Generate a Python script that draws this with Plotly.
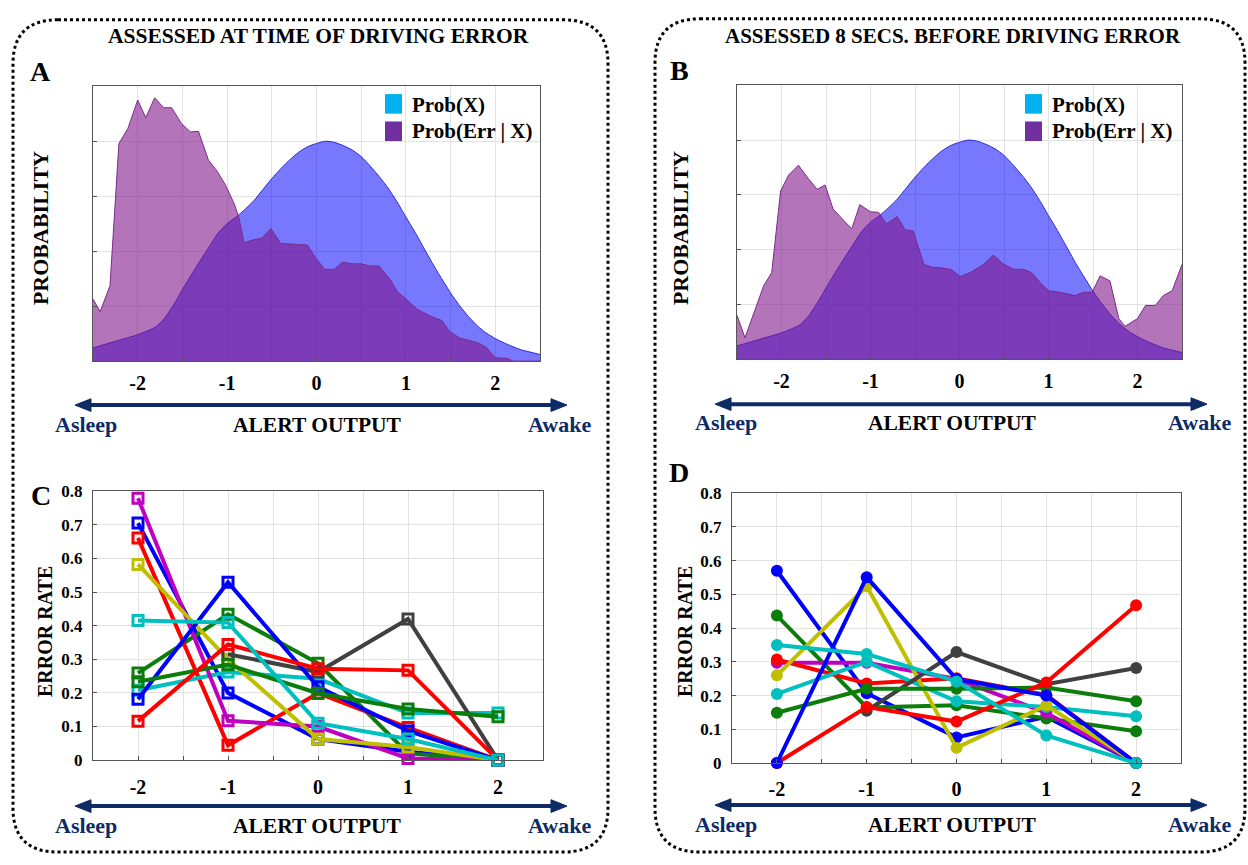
import plotly.graph_objects as go

W, H = 1248, 865

# ---------------- data ----------------
alert_levels = [-2, -1, 0, 1, 2]

# Prob(X) (same smooth curve in both top panels), grid units 0..5
prob_x_x = [-2.5, -2.25, -2.0, -1.8, -1.7, -1.6, -1.5, -1.4, -1.3, -1.2, -1.1, -1.0, -0.9, -0.8, -0.7,
            -0.6, -0.5, -0.4, -0.3, -0.2, -0.1, 0.0, 0.1, 0.2, 0.3, 0.4, 0.5, 0.6, 0.7, 0.8, 0.9, 1.0,
            1.1, 1.2, 1.3, 1.4, 1.5, 1.6, 1.7, 1.8, 1.9, 2.0, 2.1, 2.2, 2.3, 2.4, 2.5]
prob_x_y = [0.24, 0.36, 0.48, 0.62, 0.78, 1.02, 1.30, 1.57, 1.83, 2.08, 2.33, 2.50, 2.62, 2.76, 2.92,
            3.12, 3.32, 3.50, 3.66, 3.80, 3.90, 3.96, 4.00, 3.98, 3.92, 3.84, 3.72, 3.55, 3.36, 3.15, 2.90, 2.62,
            2.35, 2.06, 1.77, 1.50, 1.24, 1.01, 0.81, 0.64, 0.51, 0.41, 0.33, 0.26, 0.20, 0.16, 0.12]

# Prob(Err | X) – at time of error
err_a_x = [-2.5, -2.42, -2.31, -2.21, -2.11, -2.0, -1.91, -1.81, -1.71, -1.62, -1.51, -1.41, -1.32, -1.21,
           -1.11, -1.02, -0.92, -0.87, -0.81, -0.72, -0.61, -0.51, -0.40, -0.29, -0.19, -0.10, -0.01, 0.09,
           0.20, 0.29, 0.40, 0.50, 0.59, 0.70, 0.82, 0.91, 1.00, 1.12, 1.27, 1.40, 1.49, 1.60, 1.72, 1.81,
           1.90, 2.0, 2.13, 2.20, 2.5]
err_a_y = [1.13, 0.90, 1.37, 3.96, 4.23, 4.75, 4.43, 4.79, 4.61, 4.61, 4.32, 4.17, 4.18, 3.66,
           3.45, 3.21, 2.86, 2.62, 2.15, 2.20, 2.24, 2.41, 2.14, 2.13, 2.11, 2.11, 1.88, 1.67,
           1.67, 1.80, 1.77, 1.77, 1.73, 1.73, 1.49, 1.25, 1.13, 0.95, 0.82, 0.74, 0.54, 0.42, 0.37, 0.33,
           0.25, 0.06, 0.05, 0.0, 0.0]

# Prob(Err | X) – 8 s before error
err_b_x = [-2.5, -2.41, -2.30, -2.20, -2.11, -2.01, -1.92, -1.81, -1.70, -1.60, -1.51, -1.42, -1.30, -1.21,
           -1.12, -1.00, -0.91, -0.82, -0.70, -0.61, -0.52, -0.40, -0.31, -0.22, -0.10, 0.01, 0.12, 0.27,
           0.38, 0.49, 0.61, 0.72, 0.81, 0.92, 1.00, 1.13, 1.30, 1.39, 1.49, 1.58, 1.69, 1.79, 1.86, 2.00,
           2.09, 2.20, 2.29, 2.39, 2.5]
err_b_y = [0.80, 0.39, 0.89, 1.34, 1.58, 3.07, 3.36, 3.54, 3.30, 3.10, 3.18, 2.74, 2.53, 2.38,
           2.82, 2.69, 2.68, 2.47, 2.60, 2.36, 2.34, 1.73, 1.68, 1.67, 1.64, 1.51, 1.58, 1.73,
           1.90, 1.74, 1.64, 1.64, 1.58, 1.37, 1.25, 1.22, 1.16, 1.22, 1.22, 1.52, 1.43, 0.74, 0.60, 0.74,
           0.98, 0.98, 1.16, 1.25, 1.73]

# Error rate per subject (panel C: at time of error)
c_blue_1 = [0.705, 0.20, 0.063, 0.025, 0.0]
c_green_1 = [0.259, 0.434, 0.288, 0.02, 0.0]
c_red_1 = [0.661, 0.044, 0.199, 0.097, 0.0]
c_cyan_1 = [0.208, 0.262, 0.242, 0.14, 0.14]
c_magenta = [0.779, 0.117, 0.10, 0.005, 0.0]
c_olive = [0.582, 0.30, 0.063, 0.039, 0.0]
c_gray = [None, 0.315, 0.262, 0.42, 0.0]
c_blue_2 = [0.181, 0.529, 0.218, 0.087, 0.0]
c_green_2 = [0.233, 0.284, 0.199, 0.152, 0.129]
c_red_2 = [0.116, 0.344, 0.272, 0.267, 0.0]
c_cyan_2 = [0.415, 0.409, 0.11, 0.063, 0.0]

# Error rate per subject (panel D: 8 s before error)
d_blue_1 = [0.57, 0.207, 0.076, 0.137, 0.0]
d_green_1 = [0.437, 0.165, 0.171, 0.132, 0.094]
d_red_1 = [0.307, 0.236, 0.251, 0.202, 0.0]
d_cyan_1 = [0.205, 0.30, 0.183, 0.166, 0.139]
d_magenta = [0.297, 0.297, 0.249, 0.149, 0.0]
d_olive = [0.26, 0.524, 0.045, 0.171, 0.0]
d_gray = [None, 0.155, 0.329, 0.234, 0.282]
d_blue_2 = [0.0, 0.551, 0.249, 0.20, 0.0]
d_green_2 = [0.149, 0.22, 0.22, 0.224, 0.183]
d_red_2 = [0.0, 0.166, 0.123, 0.239, 0.468]
d_cyan_2 = [0.35, 0.323, 0.242, 0.082, 0.0]

COL = {'b': '#0000ff', 'g': '#0a7d0a', 'r': '#ff0000', 'c': '#00bfbf',
       'm': '#bf00bf', 'y': '#bfbf00', 'k': '#404040'}

c_series = [('b', c_blue_1), ('g', c_green_1), ('r', c_red_1), ('c', c_cyan_1), ('m', c_magenta),
            ('y', c_olive), ('k', c_gray), ('b', c_blue_2), ('g', c_green_2), ('r', c_red_2), ('c', c_cyan_2)]
d_series = [('b', d_blue_1), ('g', d_green_1), ('m', d_magenta), ('r', d_red_1), ('c', d_cyan_1),
            ('y', d_olive), ('k', d_gray), ('g', d_green_2), ('r', d_red_2), ('b', d_blue_2), ('c', d_cyan_2)]

SERIF = 'Liberation Serif'
NAVY = '#0d2b66'
BLUE_FILL = 'rgba(0,0,255,0.53)'
ERR_FILL = 'rgba(128,19,137,0.59)'


def px(x):
    return x / W


def py(y):
    return 1 - y / H


fig = go.Figure()

# ---- top panels ----
for xa, ya, ex, ey in [('x', 'y', err_a_x, err_a_y), ('x2', 'y2', err_b_x, err_b_y)]:
    fig.add_trace(go.Scatter(x=prob_x_x, y=prob_x_y, xaxis=xa, yaxis=ya, mode='lines',
                             line=dict(color='#2a2ad8', width=1, shape='spline', smoothing=0.6),
                             fill='tozeroy', fillcolor=BLUE_FILL, hoverinfo='skip'))
    fig.add_trace(go.Scatter(x=ex, y=ey, xaxis=xa, yaxis=ya, mode='lines',
                             line=dict(color='#7a2a8a', width=1),
                             fill='tozeroy', fillcolor=ERR_FILL, hoverinfo='skip'))

# ---- bottom panels ----
for key, ys in c_series:
    fig.add_trace(go.Scatter(x=alert_levels, y=ys, xaxis='x3', yaxis='y3', mode='lines+markers',
                             line=dict(color=COL[key], width=4), cliponaxis=False,
                             marker=dict(symbol='square-open', size=10, color=COL[key],
                                         line=dict(width=3, color=COL[key]))))
for key, ys in d_series:
    fig.add_trace(go.Scatter(x=alert_levels, y=ys, xaxis='x4', yaxis='y4', mode='lines+markers',
                             line=dict(color=COL[key], width=4), cliponaxis=False,
                             marker=dict(symbol='circle', size=12, color=COL[key])))

xt_vals = [-2, -1.5, -1, -0.5, 0, 0.5, 1, 1.5, 2]
xt_text = ['-2', '', '-1', '', '0', '', '1', '', '2']


def xaxis(dom, anchor, standoff):
    return dict(domain=dom, anchor=anchor, range=[-2.5, 2.5], tickvals=xt_vals, ticktext=xt_text,
                showgrid=True, gridcolor='#e2e2e2', gridwidth=1, zeroline=False,
                showline=True, linecolor='#555555', linewidth=1, mirror=True,
                ticks='inside', ticklen=4, tickcolor='#555555',
                tickfont=dict(family=SERIF, size=20, color='black', weight='bold'),
                ticklabelstandoff=standoff)


def yaxis(dom, anchor, rng, dtick, labels):
    return dict(domain=dom, anchor=anchor, range=rng, dtick=dtick, tick0=0,
                showgrid=True, gridcolor='#e2e2e2', gridwidth=1, zeroline=False,
                showline=True, linecolor='#555555', linewidth=1, mirror=True,
                ticks='inside', ticklen=4, tickcolor='#555555', showticklabels=labels,
                tickfont=dict(family=SERIF, size=17, color='black', weight='bold'),
                ticklabelstandoff=6)


fig.update_layout(
    width=W, height=H, margin=dict(l=0, r=0, t=0, b=0),
    paper_bgcolor='white', plot_bgcolor='white', showlegend=False,
    xaxis=xaxis([px(93), px(540)], 'y', 4),
    yaxis=yaxis([py(360), py(79)], 'x', [0, 5], 1, False),
    xaxis2=xaxis([px(737), px(1182)], 'y2', 4),
    yaxis2=yaxis([py(358), py(78)], 'x2', [0, 5], 1, False),
    xaxis3=xaxis([px(93), px(543)], 'y3', 9),
    yaxis3=yaxis([py(768), py(493)], 'x3', [0, 0.8], 0.1, True),
    xaxis4=xaxis([px(732), px(1181)], 'y4', 8),
    yaxis4=yaxis([py(771), py(495)], 'x4', [0, 0.8], 0.1, True),
)

shapes = []
annos = []


def rounded_rect(x0, y0, x1, y1, r):
    pts = [('M', x0 + r, y0), ('L', x1 - r, y0), ('Q', x1, y0, x1, y0 + r), ('L', x1, y1 - r),
           ('Q', x1, y1, x1 - r, y1), ('L', x0 + r, y1), ('Q', x0, y1, x0, y1 - r), ('L', x0, y0 + r),
           ('Q', x0, y0, x0 + r, y0)]
    s = ''
    for p in pts:
        cmd = p[0]
        coords = p[1:]
        parts = []
        for i in range(0, len(coords), 2):
            parts.append(f'{px(coords[i]):.5f},{py(coords[i + 1]):.5f}')
        s += cmd + ' '.join(parts) + ' '
    return s + 'Z'


for box in [(13, 11, 608, 862), (655, 10, 1245, 862)]:
    shapes.append(dict(type='path', xref='paper', yref='paper', path=rounded_rect(*box, 45),
                       line=dict(color='black', width=3, dash='dot')))


def arrow(xl, xr, y):
    hl, hh = 16, 6.5
    shapes.append(dict(type='line', xref='paper', yref='paper', x0=px(xl + hl - 2), x1=px(xr - hl + 2),
                       y0=py(y), y1=py(y), line=dict(color=NAVY, width=4)))
    for tip, d in [(xl, 1), (xr, -1)]:
        path = (f'M{px(tip):.5f},{py(y):.5f} L{px(tip + d * hl):.5f},{py(y - hh):.5f} '
                f'L{px(tip + d * hl):.5f},{py(y + hh):.5f} Z')
        shapes.append(dict(type='path', xref='paper', yref='paper', path=path,
                           fillcolor=NAVY, line=dict(color=NAVY, width=1)))


def txt(x, y, s, size, color='black', xanchor='center', angle=0):
    annos.append(dict(x=px(x), y=py(y), xref='paper', yref='paper', text=f'<b>{s}</b>', showarrow=False,
                      xanchor=xanchor, yanchor='middle', textangle=angle,
                      font=dict(family=SERIF, size=size, color=color)))


# arrows + labels
for xl, xr, y, ya, cx, asl, awk in [(75, 567, 405, 425, 317, 86, 559), (715, 1207, 404, 423, 953, 726, 1199),
                                    (75, 567, 815, 835, 317, 86, 559), (715, 1207, 814, 834, 953, 726, 1199)]:
    arrow(xl, xr, y)
    txt(asl, ya, 'Asleep', 22, NAVY)
    txt(cx, ya, 'ALERT OUTPUT', 21.5)
    txt(awk, ya, 'Awake', 22, NAVY)

# titles
txt(318, 28, 'ASSESSED AT TIME OF DRIVING ERROR', 21.5)
txt(953, 28, 'ASSESSED 8 SECS. BEFORE DRIVING ERROR', 21)

# panel letters
txt(40, 64, 'A', 28)
txt(680, 63, 'B', 28)
txt(41, 497, 'C', 28)
txt(679, 474, 'D', 28)

# y titles
txt(40, 224, 'PROBABILITY', 22, angle=-90)
txt(680, 224, 'PROBABILITY', 22, angle=-90)
txt(45, 636, 'ERROR RATE', 20, angle=-90)
txt(685, 637, 'ERROR RATE', 20, angle=-90)

# legends
for lx, ly in [(385, 87), (1025, 87)]:
    shapes.append(dict(type='rect', xref='paper', yref='paper', x0=px(lx), x1=px(lx + 17),
                       y0=py(ly), y1=py(ly + 20), fillcolor='#00b0f0', line=dict(width=0)))
    shapes.append(dict(type='rect', xref='paper', yref='paper', x0=px(lx), x1=px(lx + 17),
                       y0=py(ly + 28), y1=py(ly + 48), fillcolor='#7030a0', line=dict(width=0)))
    txt(lx + 25, ly + 11, 'Prob(X)', 21, xanchor='left')
    txt(lx + 25, ly + 38, 'Prob(Err | X)', 21, xanchor='left')

fig.update_layout(shapes=shapes, annotations=annos)
fig.write_html('out.html')
